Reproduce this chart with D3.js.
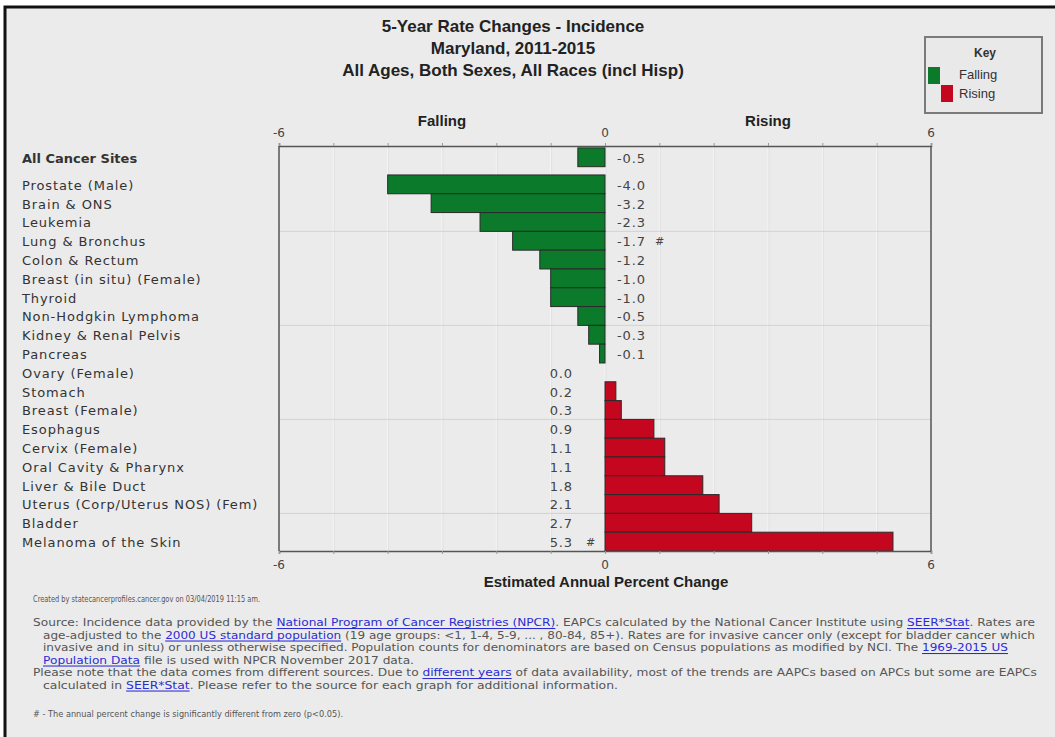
<!DOCTYPE html>
<html><head><meta charset="utf-8">
<script src="https://cdn.jsdelivr.net/npm/d3@7"></script>
<style>body{margin:0;background:#fff;} svg{display:block}</style>
</head><body><svg id="c" width="1055" height="737"></svg>
<script>
// ---- data ----
const categories = ["All Cancer Sites","Prostate (Male)","Brain & ONS","Leukemia","Lung & Bronchus","Colon & Rectum","Breast (in situ) (Female)","Thyroid","Non-Hodgkin Lymphoma","Kidney & Renal Pelvis","Pancreas","Ovary (Female)","Stomach","Breast (Female)","Esophagus","Cervix (Female)","Oral Cavity & Pharynx","Liver & Bile Duct","Uterus (Corp/Uterus NOS) (Fem)","Bladder","Melanoma of the Skin"];
const values = [-0.5,-4.0,-3.2,-2.3,-1.7,-1.2,-1.0,-1.0,-0.5,-0.3,-0.1,0.0,0.2,0.3,0.9,1.1,1.1,1.8,2.1,2.7,5.3];
const significant = [false,false,false,false,true,false,false,false,false,false,false,false,false,false,false,false,false,false,false,false,true];
const xTickLabels = [-6,0,6];
const titleLines = ["5-Year Rate Changes - Incidence","Maryland, 2011-2015","All Ages, Both Sexes, All Races (incl Hisp)"];
const legendItems = ["Falling","Rising"];

const GREEN = "#0b7a2b", RED = "#c5061f";
const svg = d3.select("#c");
const W = 1055, H = 737;

// frame
svg.append("rect").attr("x",0).attr("y",0).attr("width",W).attr("height",H).attr("fill","#fff");
svg.append("rect").attr("x",5).attr("y",7).attr("width",W+20).attr("height",H+20)
  .attr("fill","#ebebeb").attr("stroke","#111").attr("stroke-width",3);

// titles
const titleY = [26,48,70];
titleLines.forEach((t,i)=>{
  svg.append("text").attr("x",513).attr("y",titleY[i]).attr("text-anchor","middle")
    .attr("dominant-baseline","central")
    .attr("font-family","Liberation Sans, Arial, sans-serif").attr("font-weight","bold")
    .attr("font-size",17).attr("fill","#222").text(t);
});

// scales
const pLeft=279, pRight=931, pTop=146, pBot=551;
const x = d3.scaleLinear().domain([-6,6]).range([pLeft,pRight]);
const leadPad = 0.1, groupGap = 0.44;
const nRows = categories.length;
const y = d3.scaleLinear().domain([0, leadPad + nRows + groupGap]).range([pTop,pBot]);
const slot = i => leadPad + i + (i>0 ? groupGap : 0);
const step = y(1)-y(0);

// vertical gridlines
const g = svg.append("g");
g.selectAll("line.vg").data(d3.range(-5,6)).join("line")
  .attr("x1",d=>x(d)).attr("x2",d=>x(d)).attr("y1",pTop).attr("y2",pBot)
  .attr("stroke","#f6f6f6").attr("stroke-width",1);
g.selectAll("line.vg2").data(d3.range(-5,6)).join("line")
  .attr("x1",d=>x(d)+1).attr("x2",d=>x(d)+1).attr("y1",pTop).attr("y2",pBot)
  .attr("stroke","#e0e0e0").attr("stroke-width",1);
// horizontal gridlines every 5 rows
g.selectAll("line.hg").data(d3.range(1,nRows).filter(i=>i%5===4)).join("line")
  .attr("x1",pLeft).attr("x2",pRight).attr("y1",i=>y(slot(i))).attr("y2",i=>y(slot(i)))
  .attr("stroke","#d2d2d2").attr("stroke-width",1);

// bars
svg.append("g").selectAll("rect").data(values).join("rect")
  .attr("x",d=>x(Math.min(0,d))).attr("width",d=>Math.abs(x(d)-x(0)))
  .attr("y",(d,i)=>y(slot(i))).attr("height",step)
  .attr("fill",d=>d<0?GREEN:RED).attr("stroke","#2a2a2a").attr("stroke-width",1);

// axes frame
const axisCol = "#555";
const axTop = d3.axisTop(x).tickValues(d3.range(-6,7)).tickSize(3).tickFormat("");
const axBot = d3.axisBottom(x).tickValues(d3.range(-6,7)).tickSize(3).tickFormat("");
const at = svg.append("g").attr("transform",`translate(0,${pTop})`).call(axTop);
const ab = svg.append("g").attr("transform",`translate(0,${pBot})`).call(axBot);
[at,ab].forEach(a=>{a.select(".domain").attr("stroke",axisCol).attr("stroke-width",1.5);
  a.selectAll(".tick line").attr("stroke","#999");});
svg.append("line").attr("x1",pLeft).attr("x2",pLeft).attr("y1",pTop).attr("y2",pBot).attr("stroke",axisCol).attr("stroke-width",1.5);
svg.append("line").attr("x1",pRight).attr("x2",pRight).attr("y1",pTop).attr("y2",pBot).attr("stroke",axisCol).attr("stroke-width",1.5);

// tick labels
xTickLabels.forEach(v=>{
  [pTop-13, pBot+14].forEach(yy=>{
    svg.append("text").attr("x",x(v)).attr("y",yy).attr("text-anchor","middle")
      .attr("dominant-baseline","central").attr("font-family","DejaVu Sans, sans-serif")
      .attr("font-size",12).attr("fill","#444").text(v);
  });
});
const boldLbl = (tx,xx,yy,fs)=>svg.append("text").attr("x",xx).attr("y",yy).attr("text-anchor","middle")
  .attr("dominant-baseline","central").attr("font-family","Liberation Sans, Arial, sans-serif")
  .attr("font-weight","bold").attr("font-size",fs).attr("fill","#222").text(tx);
boldLbl("Falling",(x(-6)+x(0))/2,120,15);
boldLbl("Rising",(x(0)+x(6))/2,120,15);
boldLbl("Estimated Annual Percent Change",x(0)+1,581,15);

// category labels
svg.append("g").selectAll("text").data(categories).join("text")
  .attr("x",22).attr("y",(d,i)=>y(slot(i))+step/2+1).attr("dominant-baseline","central")
  .attr("font-family","DejaVu Sans, sans-serif").attr("font-size",13)
  .attr("font-weight",(d,i)=>i===0?"bold":"normal")
  .attr("letter-spacing",(d,i)=>i===0?0:0.9)
  .attr("fill","#333").text(d=>d);

// value labels
const vl = svg.append("g").attr("font-family","DejaVu Sans, sans-serif").attr("font-size",13).attr("fill","#444").attr("letter-spacing",0.9);
values.forEach((v,i)=>{
  const cy = y(slot(i))+step/2+1;
  const neg = v<0;
  vl.append("text").attr("x",neg? x(0)+12 : x(0)-32).attr("y",cy)
    .attr("text-anchor",neg?"start":"end").attr("dominant-baseline","central").text(v.toFixed(1));
  if(significant[i]){
    vl.append("text").attr("x",neg? x(0)+50 : x(0)-19).attr("y",cy)
      .attr("dominant-baseline","central").attr("font-size",11).text("#");
  }
});

// legend
const lg = svg.append("g");
lg.append("rect").attr("x",925).attr("y",37).attr("width",117).attr("height",76)
  .attr("fill","#e9e9e9").attr("stroke","#7a7a7a").attr("stroke-width",2);
lg.append("text").attr("x",985).attr("y",53).attr("text-anchor","middle").attr("dominant-baseline","central")
  .attr("font-family","Liberation Sans, Arial, sans-serif").attr("font-weight","bold").attr("font-size",12).attr("fill","#333").text("Key");
[GREEN,RED].forEach((c,i)=>{
  lg.append("rect").attr("x",928+13*i).attr("y",67+18*i).attr("width",12).attr("height",17).attr("fill",c);
  lg.append("text").attr("x",959).attr("y",74+19*i).attr("dominant-baseline","central")
    .attr("font-family","Liberation Sans, Arial, sans-serif").attr("font-size",13).attr("fill","#333").text(legendItems[i]);
});

// footer
const footer = [
  {x:33,y:599,w:227,fs:9,parts:[["Created by statecancerprofiles.cancer.gov on 03/04/2019 11:15 am.",0]]},
  {x:33,y:622,w:1002,fs:10.5,parts:[["Source: Incidence data provided by the ",0],["National Program of Cancer Registries (NPCR)",1],[". EAPCs calculated by the National Cancer Institute using ",0],["SEER*Stat",1],[". Rates are",0]]},
  {x:43,y:634.5,w:992,fs:10.5,parts:[["age-adjusted to the ",0],["2000 US standard population",1],[" (19 age groups: <1, 1-4, 5-9, ... , 80-84, 85+). Rates are for invasive cancer only (except for bladder cancer which",0]]},
  {x:43,y:647,w:965,fs:10.5,parts:[["invasive and in situ) or unless otherwise specified. Population counts for denominators are based on Census populations as modified by NCI. The ",0],["1969-2015 US",1]]},
  {x:43,y:659.5,w:371,fs:10.5,parts:[["Population Data",1],[" file is used with NPCR November 2017 data.",0]]},
  {x:33,y:672,w:1004,fs:10.5,parts:[["Please note that the data comes from different sources. Due to ",0],["different years",1],[" of data availability, most of the trends are AAPCs based on APCs but some are EAPCs",0]]},
  {x:43,y:684.5,w:575,fs:10.5,parts:[["calculated in ",0],["SEER*Stat",1],[". Please refer to the source for each graph for additional information.",0]]},
  {x:33,y:714,w:310,fs:9,parts:[["# - The annual percent change is significantly different from zero (p<0.05).",0]]}
];
footer.forEach(l=>{
  const t = svg.append("text").attr("x",l.x).attr("y",l.y).attr("dominant-baseline","central")
    .attr("font-family","DejaVu Sans, sans-serif").attr("font-size",l.fs).attr("fill","#555")
    .attr("textLength",l.w).attr("lengthAdjust","spacingAndGlyphs");
  l.parts.forEach(p=>{
    const s = t.append("tspan").text(p[0]);
    if(p[1]) s.attr("fill","#2b2bd6").attr("text-decoration","underline");
  });
});
</script></body></html>
